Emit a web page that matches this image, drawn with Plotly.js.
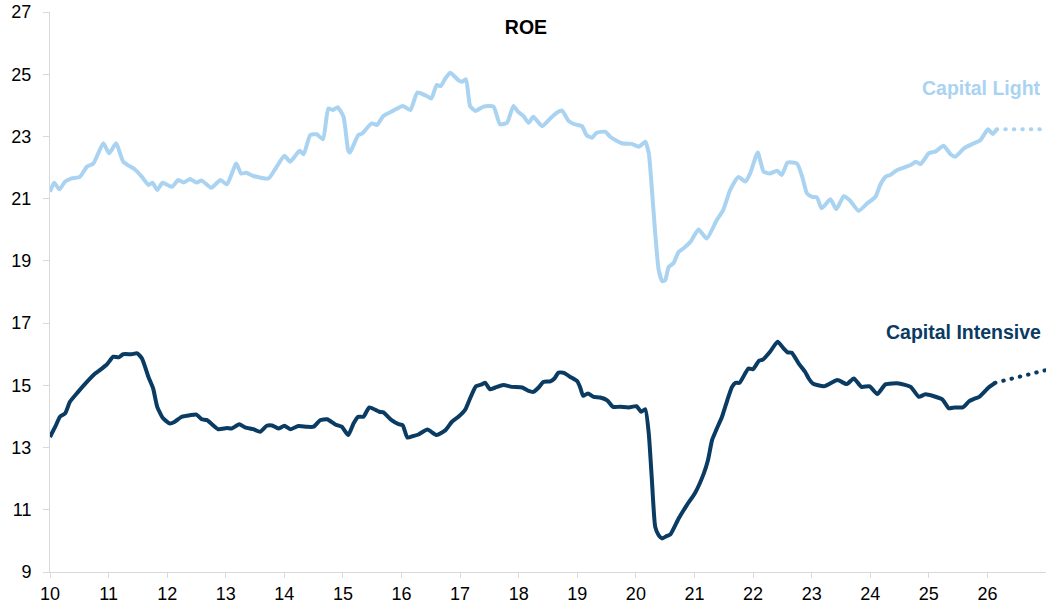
<!DOCTYPE html>
<html>
<head>
<meta charset="utf-8">
<script src="https://cdn.plot.ly/plotly-3.0.1.min.js"></script>
<style>
html,body{margin:0;padding:0;background:#fff;}
#chart{width:1046px;height:609px;}
</style>
</head>
<body>
<div id="chart"></div>
<script>
// Capital Light ROE (x = year, e.g. 10 = 2010)
const lightX = [10.00,10.07,10.16,10.26,10.37,10.51,10.63,10.74,10.91,11.01,11.13,11.25,11.45,11.57,11.68,11.75,11.83,11.92,12.08,12.19,12.28,12.39,12.50,12.59,12.75,12.91,13.02,13.18,13.26,13.35,13.47,13.73,13.87,14.00,14.10,14.26,14.33,14.44,14.55,14.66,14.75,14.83,14.91,15.01,15.09,15.12,15.26,15.33,15.49,15.58,15.69,15.86,16.02,16.15,16.27,16.43,16.51,16.60,16.67,16.75,16.83,16.97,17.03,17.10,17.17,17.26,17.40,17.57,17.68,17.80,17.91,17.99,18.08,18.17,18.25,18.40,18.54,18.65,18.74,18.85,18.94,19.08,19.16,19.25,19.33,19.48,19.56,19.76,19.93,20.05,20.16,20.22,20.27,20.33,20.39,20.45,20.50,20.56,20.64,20.73,20.81,20.93,21.07,21.21,21.38,21.49,21.61,21.75,21.87,21.95,22.08,22.18,22.29,22.41,22.49,22.59,22.75,22.84,22.92,23.01,23.09,23.17,23.32,23.42,23.55,23.65,23.80,23.95,24.09,24.17,24.26,24.34,24.46,24.69,24.78,24.86,25.00,25.11,25.25,25.37,25.45,25.60,25.77,25.88,26.01,26.09,26.16];
const lightY = [21.22,21.51,21.30,21.55,21.65,21.70,22.03,22.13,22.78,22.46,22.78,22.19,21.94,21.70,21.44,21.51,21.28,21.51,21.38,21.60,21.52,21.63,21.52,21.58,21.35,21.60,21.46,22.13,21.81,21.83,21.73,21.65,22.03,22.38,22.19,22.54,22.43,23.04,23.07,22.91,23.90,23.85,23.94,23.63,22.55,22.48,23.04,23.10,23.42,23.37,23.66,23.83,23.98,23.85,24.41,24.30,24.22,24.65,24.62,24.87,25.05,24.81,24.76,24.84,23.98,23.82,23.96,23.96,23.39,23.44,23.98,23.79,23.66,23.44,23.63,23.33,23.58,23.76,23.83,23.50,23.40,23.33,23.04,22.96,23.12,23.15,22.99,22.78,22.76,22.67,22.83,22.46,21.38,19.88,18.70,18.35,18.38,18.81,18.92,19.29,19.40,19.61,20.01,19.72,20.31,20.63,21.28,21.70,21.55,21.81,22.48,21.87,21.81,21.90,21.76,22.16,22.13,21.70,21.17,21.06,21.04,20.69,20.98,20.66,21.08,20.95,20.61,20.85,21.06,21.44,21.70,21.76,21.92,22.08,22.19,22.11,22.46,22.51,22.70,22.43,22.35,22.62,22.78,22.88,23.23,23.08,23.23];
const lightFcX = [26.16, 27.0];
const lightFcY = [23.23, 23.23];

// Capital Intensive ROE
const intX = [10.00,10.09,10.17,10.26,10.34,10.48,10.63,10.77,10.85,10.97,11.08,11.17,11.25,11.39,11.49,11.57,11.68,11.76,11.83,11.93,12.05,12.13,12.25,12.39,12.50,12.59,12.68,12.87,13.02,13.10,13.23,13.33,13.47,13.59,13.70,13.79,13.90,14.00,14.10,14.24,14.38,14.50,14.61,14.73,14.87,14.98,15.09,15.18,15.26,15.35,15.45,15.62,15.69,15.83,15.95,16.02,16.10,16.20,16.29,16.44,16.60,16.75,16.86,16.97,17.09,17.17,17.27,17.37,17.43,17.51,17.60,17.74,17.88,18.06,18.17,18.25,18.34,18.42,18.54,18.61,18.68,18.77,18.88,19.00,19.05,19.10,19.18,19.28,19.39,19.51,19.61,19.73,19.88,20.01,20.09,20.16,20.22,20.27,20.33,20.39,20.45,20.53,20.59,20.73,20.87,21.01,21.16,21.23,21.30,21.37,21.47,21.56,21.64,21.70,21.77,21.92,22.00,22.10,22.17,22.29,22.42,22.52,22.59,22.66,22.78,22.89,22.95,23.02,23.21,23.44,23.60,23.72,23.85,23.99,24.12,24.26,24.49,24.69,24.83,24.94,25.23,25.34,25.44,25.58,25.69,25.77,25.86,26.02,26.13];
const intY = [13.34,13.67,13.99,14.10,14.47,14.79,15.11,15.38,15.49,15.67,15.92,15.90,16.00,16.00,16.03,15.86,15.27,14.90,14.31,13.94,13.77,13.83,13.99,14.04,14.06,13.91,13.88,13.59,13.63,13.61,13.75,13.65,13.59,13.51,13.70,13.71,13.61,13.70,13.59,13.69,13.67,13.67,13.88,13.91,13.74,13.67,13.40,13.77,13.99,13.99,14.29,14.15,14.13,13.88,13.75,13.72,13.32,13.37,13.42,13.58,13.40,13.56,13.83,13.99,14.23,14.58,14.97,15.03,15.08,14.87,14.93,15.01,14.95,14.93,14.82,14.79,14.93,15.11,15.13,15.22,15.41,15.40,15.27,15.13,14.93,14.66,14.74,14.63,14.61,14.52,14.31,14.31,14.29,14.33,14.15,14.23,13.45,12.06,10.45,10.18,10.08,10.16,10.21,10.72,11.15,11.54,12.17,12.59,13.24,13.56,13.99,14.52,14.95,15.08,15.08,15.54,15.52,15.79,15.83,16.08,16.40,16.19,16.06,16.05,15.70,15.43,15.22,15.06,14.97,15.17,15.04,15.22,14.95,14.97,14.72,15.03,15.06,14.95,14.63,14.71,14.55,14.26,14.29,14.29,14.49,14.56,14.63,14.93,15.08];
const intFcX = [26.13, 27.0];
const intFcY = [15.08, 15.49];

const xTickVals = [10,11,12,13,14,15,16,17,18,19,20,21,22,23,24,25,26,27];
const xTickText = ['10','11','12','13','14','15','16','17','18','19','20','21','22','23','24','25','26',''];
const yTickVals = [9,11,13,15,17,19,21,23,25,27];

const lightColor = '#A9D3F1';
const navyColor = '#0A3B63';

const traces = [
  {x: lightX, y: lightY, type:'scatter', mode:'lines', line:{color:lightColor, width:4, shape:'spline', smoothing:0.5}, hoverinfo:'skip'},
  {x: lightFcX, y: lightFcY, type:'scatter', mode:'lines', line:{color:lightColor, width:4, dash:'0.5px,8px'}, hoverinfo:'skip'},
  {x: intX, y: intY, type:'scatter', mode:'lines', line:{color:navyColor, width:4, shape:'spline', smoothing:0.5}, hoverinfo:'skip'},
  {x: intFcX, y: intFcY, type:'scatter', mode:'lines', line:{color:navyColor, width:4, dash:'0.5px,8px'}, hoverinfo:'skip'}
];

const layout = {
  width:1046, height:609,
  margin:{l:50, r:0, t:12, b:37},
  paper_bgcolor:'#fff', plot_bgcolor:'#fff',
  showlegend:false,
  font:{family:'Arial, "Liberation Sans", sans-serif', size:18, color:'#000'},
  title:{text:'<b>ROE</b>', x:526/1046, xref:'container', xanchor:'center', y:1-27/609, yref:'container', yanchor:'middle', font:{size:19.5, color:'#000'}},
  xaxis:{range:[10,27], tickvals:xTickVals, ticktext:xTickText, showgrid:false, zeroline:false, showline:true, linecolor:'#D9D9D9', linewidth:1, ticks:'outside', ticklen:5, tickcolor:'#D9D9D9', tickfont:{size:18}, fixedrange:true},
  yaxis:{range:[9,27], tickvals:yTickVals, showgrid:false, zeroline:false, showline:true, linecolor:'#D9D9D9', linewidth:1, ticks:'outside', ticklen:6, tickcolor:'#D9D9D9', tickfont:{size:18}, ticklabelstandoff:8, fixedrange:true},
  annotations:[
    {text:'<b>Capital Light</b>', x:1, xref:'paper', xanchor:'right', xshift:-3, y:24.56, yref:'y', yanchor:'middle', showarrow:false, font:{size:19.5, color:lightColor}},
    {text:'<b>Capital Intensive</b>', x:1, xref:'paper', xanchor:'right', xshift:-3, y:16.71, yref:'y', yanchor:'middle', showarrow:false, font:{size:19.5, color:navyColor}}
  ]
};

Plotly.newPlot('chart', traces, layout, {displayModeBar:false, staticPlot:true}).then(function(gd){
  // round caps so the forecast dots look round, like the reference
  const paths = gd.querySelectorAll('.scatterlayer .trace .js-line');
  paths.forEach(function(p){
    const da = p.style.strokeDasharray || p.getAttribute('stroke-dasharray');
    if (da && da !== 'none' && da !== '') {
      p.style.strokeLinecap = 'round';
    } else {
      p.style.strokeLinejoin = 'round';
    }
  });
});
</script>
</body>
</html>
